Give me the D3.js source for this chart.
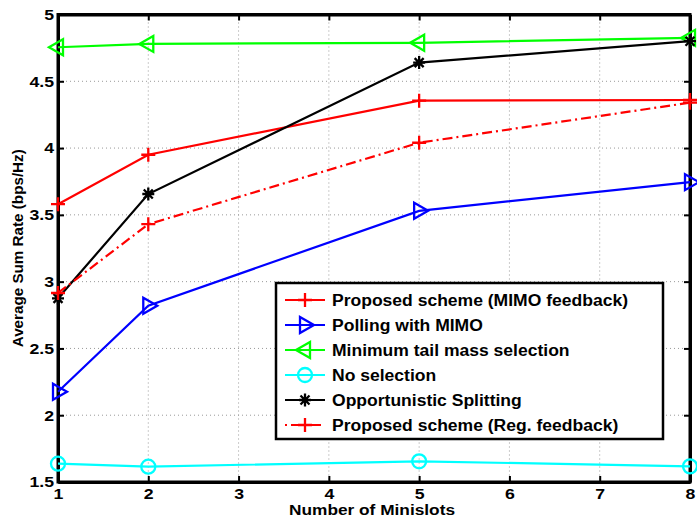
<!DOCTYPE html>
<html><head><meta charset="utf-8">
<script src="https://cdn.jsdelivr.net/npm/d3@7"></script>
<style>body{margin:0;background:#fff;} text{font-family:"Liberation Sans",Arial,sans-serif;font-weight:bold;}</style>
</head><body>
<svg id="c" width="697" height="519"></svg>
<script>
const xValues = [1, 2, 5, 8];
const xTicks = [1, 2, 3, 4, 5, 6, 7, 8];
const yTicks = [1.5, 2, 2.5, 3, 3.5, 4, 4.5, 5];
const seriesNames = ["Proposed scheme (MIMO feedback)", "Polling with MIMO", "Minimum tail mass selection", "No selection", "Opportunistic Splitting", "Proposed scheme (Reg. feedback)"];
const proposedMimo = [3.58, 3.95, 4.355, 4.36];
const pollingMimo = [2.176, 2.82, 3.53, 3.745];
const minTailMass = [4.755, 4.78, 4.788, 4.825];
const noSelection = [1.637, 1.615, 1.655, 1.617];
const opportunistic = [2.875, 3.656, 4.64, 4.80];
const proposedReg = [2.915, 3.43, 4.04, 4.34];

const series = [
  {name: seriesNames[0], values: proposedMimo, color: "#ff0000", marker: "plus", dash: null},
  {name: seriesNames[1], values: pollingMimo, color: "#0000ff", marker: "triR", dash: null},
  {name: seriesNames[2], values: minTailMass, color: "#00ff00", marker: "triL", dash: null},
  {name: seriesNames[3], values: noSelection, color: "#00ffff", marker: "circle", dash: null},
  {name: seriesNames[4], values: opportunistic, color: "#000000", marker: "star", dash: null},
  {name: seriesNames[5], values: proposedReg, color: "#ff0000", marker: "plus", dash: "10,4,2,4"}
];

const svg = d3.select("#c");
const L = 58, R = 690, T = 14.5, B = 482;
const x = d3.scaleLinear().domain([1, 8]).range([L, R]);
const y = d3.scaleLinear().domain([1.5, 5]).range([B, T]);

function stretch(sel, f) {
  sel.each(function() {
    const w = this.getComputedTextLength();
    d3.select(this).attr("textLength", w * f).attr("lengthAdjust", "spacingAndGlyphs");
  });
}

// grid
const g = svg.append("g");
g.selectAll(".gx").data(xTicks.slice(1, -1)).enter().append("line")
  .attr("x1", d => x(d)).attr("x2", d => x(d)).attr("y1", T).attr("y2", B)
  .attr("stroke", "#999").attr("stroke-width", 1).attr("stroke-dasharray", "1,3");
g.selectAll(".gy").data(yTicks.slice(1, -1)).enter().append("line")
  .attr("y1", d => y(d)).attr("y2", d => y(d)).attr("x1", L).attr("x2", R)
  .attr("stroke", "#999").attr("stroke-width", 1).attr("stroke-dasharray", "1,3");

// axes
const fs = 15;
const xa = svg.append("g").attr("transform", `translate(0,${B})`)
  .call(d3.axisBottom(x).tickValues(xTicks).tickFormat(d3.format("d")).tickSizeInner(-6).tickSizeOuter(0).tickPadding(6));
const ya = svg.append("g").attr("transform", `translate(${L},0)`)
  .call(d3.axisLeft(y).tickValues(yTicks).tickFormat(d => d % 1 === 0 ? d3.format("d")(d) : d3.format(".1f")(d)).tickSizeInner(-6).tickSizeOuter(0).tickPadding(4));
const xt = svg.append("g").attr("transform", `translate(0,${T})`)
  .call(d3.axisTop(x).tickValues(xTicks).tickFormat("").tickSizeInner(-6).tickSizeOuter(0));
const yr = svg.append("g").attr("transform", `translate(${R},0)`)
  .call(d3.axisRight(y).tickValues(yTicks).tickFormat("").tickSizeInner(-6).tickSizeOuter(0));
[xa, ya, xt, yr].forEach(a => {
  a.selectAll("path").attr("stroke", "#000").attr("stroke-width", 3);
  a.selectAll("line").attr("stroke", "#000").attr("stroke-width", 2);
  a.selectAll("text").attr("fill", "#000").style("font-size", fs + "px").style("font-weight", "bold");
});
xa.selectAll("text").attr("y", 16.5).attr("dy", null);
stretch(xa.selectAll("text"), 1.18);
stretch(ya.selectAll("text"), 1.18);
svg.append("rect").attr("x", L).attr("y", T).attr("width", R - L).attr("height", B - T)
  .attr("fill", "none").attr("stroke", "#000").attr("stroke-width", 3);

// labels
svg.append("text").attr("x", 372).attr("y", 515).attr("text-anchor", "middle")
  .style("font-size", "14px").attr("textLength", 166).attr("lengthAdjust", "spacingAndGlyphs")
  .text("Number of Minislots");
svg.append("text").attr("transform", `translate(23,${(T + B) / 2}) rotate(-90)`).attr("text-anchor", "middle")
  .style("font-size", "14.5px").attr("textLength", 198).attr("lengthAdjust", "spacingAndGlyphs")
  .text("Average Sum Rate (bps/Hz)");

function drawMarker(sel, type, color) {
  const sw = 2.3;
  if (type === "plus") {
    sel.append("path").attr("d", "M-7,0H7M0,-7V7").attr("stroke", color).attr("stroke-width", sw).attr("fill", "none");
  } else if (type === "triR") {
    sel.append("path").attr("d", "M-5,-8L9,0L-5,8Z").attr("stroke", color).attr("stroke-width", sw).attr("fill", "none");
  } else if (type === "triL") {
    sel.append("path").attr("d", "M5,-8L-9,0L5,8Z").attr("stroke", color).attr("stroke-width", sw).attr("fill", "none");
  } else if (type === "circle") {
    sel.append("circle").attr("r", 7).attr("stroke", color).attr("stroke-width", sw).attr("fill", "none");
  } else if (type === "star") {
    sel.append("path").attr("d", "M-6,0H6M0,-6.5V6.5M-4.5,-4.5L4.5,4.5M-4.5,4.5L4.5,-4.5").attr("stroke", color).attr("stroke-width", sw).attr("fill", "none");
  }
}

const line = d3.line().x((d, i) => x(xValues[i])).y(d => y(d));
series.forEach(s => {
  svg.append("path").datum(s.values).attr("d", line).attr("fill", "none")
    .attr("stroke", s.color).attr("stroke-width", 2.2)
    .attr("stroke-dasharray", s.dash);
  s.values.forEach((v, i) => {
    const m = svg.append("g").attr("transform", `translate(${x(xValues[i])},${y(v)})`);
    drawMarker(m, s.marker, s.color);
  });
});

// legend
const lg = svg.append("g");
lg.append("rect").attr("x", 276).attr("y", 283).attr("width", 387).attr("height", 156)
  .attr("fill", "#fff").attr("stroke", "#000").attr("stroke-width", 2.5);
series.forEach((s, i) => {
  const yy = 300 + i * 25;
  lg.append("line").attr("x1", 285).attr("x2", 325).attr("y1", yy).attr("y2", yy)
    .attr("stroke", s.color).attr("stroke-width", 2.2).attr("stroke-dasharray", s.dash ? "2,4,10,4" : null);
  const m = lg.append("g").attr("transform", `translate(305,${yy})`);
  drawMarker(m, s.marker, s.color);
  const t = lg.append("text").attr("x", 332).attr("y", yy).attr("dy", "0.36em").style("font-size", "16px").text(s.name);
  stretch(t, 1.095);
});
</script>
</body></html>
